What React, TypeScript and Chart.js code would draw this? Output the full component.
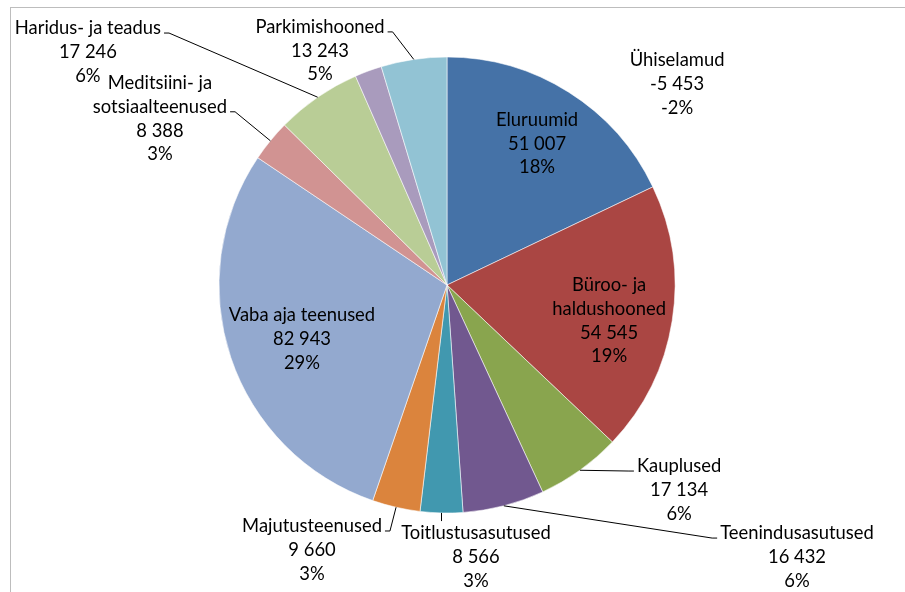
import React, { useEffect, useRef } from "react";
import { Chart, registerables } from "chart.js";

Chart.register(...registerables);

// ---- data ----
const categories = [
  "Eluruumid",
  "Büroo- ja haldushooned",
  "Kauplused",
  "Teenindusasutused",
  "Toitlustusasutused",
  "Majutusteenused",
  "Vaba aja teenused",
  "Meditsiini- ja sotsiaalteenused",
  "Haridus- ja teadus",
  "Ühiselamud",
  "Parkimishooned",
];
const labelLines = [
  ["Eluruumid"],
  ["Büroo- ja", "haldushooned"],
  ["Kauplused"],
  ["Teenindusasutused"],
  ["Toitlustusasutused"],
  ["Majutusteenused"],
  ["Vaba aja teenused"],
  ["Meditsiini- ja", "sotsiaalteenused"],
  ["Haridus- ja teadus"],
  ["Ühiselamud"],
  ["Parkimishooned"],
];
const values = [51007, 54545, 17134, 16432, 8566, 9660, 82943, 8388, 17246, -5453, 13243];

// ---- styles ----
const colors = [
  "#4572A7",
  "#AA4643",
  "#89A54E",
  "#71588F",
  "#4198AF",
  "#DB843D",
  "#93A9CF",
  "#D19392",
  "#B9CD96",
  "#A99BBD",
  "#92C3D4",
];

// label placement: first-line centre relative to pie centre, in radius units
type Leader = { side: "left" | "right" | "top"; line: number } | null;
const labelLayout: { x: number; y: number; leader: Leader }[] = [
  { x: 0.395, y: -0.724, leader: null },
  { x: 0.711, y: 0.0, leader: null },
  { x: 1.018, y: 0.794, leader: { side: "left", line: 0 } },
  { x: 1.535, y: 1.088, leader: { side: "left", line: 0 } },
  { x: 0.127, y: 1.088, leader: { side: "top", line: 0 } },
  { x: -0.592, y: 1.057, leader: { side: "right", line: 0 } },
  { x: -0.636, y: 0.132, leader: null },
  { x: -1.259, y: -0.886, leader: { side: "right", line: 1 } },
  { x: -1.575, y: -1.127, leader: { side: "right", line: 0 } },
  { x: 1.009, y: -0.987, leader: null },
  { x: -0.557, y: -1.132, leader: { side: "right", line: 0 } },
];

const FONT = "18.4px Lato";
const LINE_H = 23.8;

function fmtNumber(v: number): string {
  const s = Math.abs(v).toString().replace(/\B(?=(\d{3})+(?!\d))/g, " ");
  return (v < 0 ? "-" : "") + s;
}

const labelsPlugin = {
  id: "excelLabels",
  beforeDraw(chart: any) {
    const { ctx } = chart;
    ctx.save();
    ctx.fillStyle = "#ffffff";
    ctx.fillRect(0, 0, chart.width, chart.height);
    ctx.strokeStyle = "#bdbdbd";
    ctx.lineWidth = 1;
    ctx.strokeRect(10.5, 7.5, chart.width + 20, chart.height + 20);
    ctx.restore();
  },
  afterDatasetsDraw(chart: any) {
    const { ctx } = chart;
    const meta = chart.getDatasetMeta(0);
    const total = values.reduce((a, b) => a + Math.abs(b), 0);
    ctx.save();
    ctx.font = FONT;
    ctx.fillStyle = "#000000";
    ctx.textAlign = "center";
    ctx.textBaseline = "middle";
    meta.data.forEach((arc: any, i: number) => {
      const p = arc.getProps(["x", "y", "startAngle", "endAngle", "outerRadius"], true);
      const R = p.outerRadius;
      const lay = labelLayout[i];
      const lx = p.x + lay.x * R;
      const ly = p.y + lay.y * R;
      const lines = [...labelLines[i], fmtNumber(values[i]), Math.round((values[i] / total) * 100) + "%"];
      lines.forEach((t, k) => ctx.fillText(t, lx, ly + k * LINE_H));
      if (lay.leader) {
        const mid = (p.startAngle + p.endAngle) / 2;
        const sx = p.x + Math.cos(mid) * R;
        const sy = p.y + Math.sin(mid) * R;
        ctx.beginPath();
        ctx.strokeStyle = "#000000";
        ctx.lineWidth = 1;
        ctx.moveTo(sx, sy);
        const lineY = ly + lay.leader.line * LINE_H;
        const w = ctx.measureText(lines[lay.leader.line]).width;
        if (lay.leader.side === "top") {
          ctx.lineTo(sx, ly - 12);
        } else if (lay.leader.side === "left") {
          const ex = lx - w / 2 - 3;
          ctx.lineTo(ex - 5, lineY + 5);
          ctx.lineTo(ex, lineY + 5);
        } else {
          const ex = lx + w / 2 + 3;
          ctx.lineTo(ex + 5, lineY + 5);
          ctx.lineTo(ex, lineY + 5);
        }
        ctx.stroke();
      }
    });
    ctx.restore();
  },
};

export default function App() {
  const ref = useRef<HTMLCanvasElement | null>(null);
  useEffect(() => {
    if (!ref.current) return;
    const chart = new Chart(ref.current, {
      type: "pie",
      data: {
        labels: categories,
        datasets: [
          {
            data: values,
            backgroundColor: colors,
            borderColor: "rgba(255,255,255,0.55)",
            borderWidth: 1,
            hoverOffset: 0,
            radius: 228,
          } as any,
        ],
      },
      options: {
        responsive: false,
        animation: false,
        events: [],
        layout: { padding: { left: 219, right: 230, top: 57, bottom: 79 } },
        plugins: { legend: { display: false }, tooltip: { enabled: false } },
      },
      plugins: [labelsPlugin],
    });
    return () => chart.destroy();
  }, []);
  return (
    <div style={{ position: "absolute", left: 0, top: 0, width: 905, height: 592 }}>
      <canvas ref={ref} width={905} height={592} />
    </div>
  );
}
